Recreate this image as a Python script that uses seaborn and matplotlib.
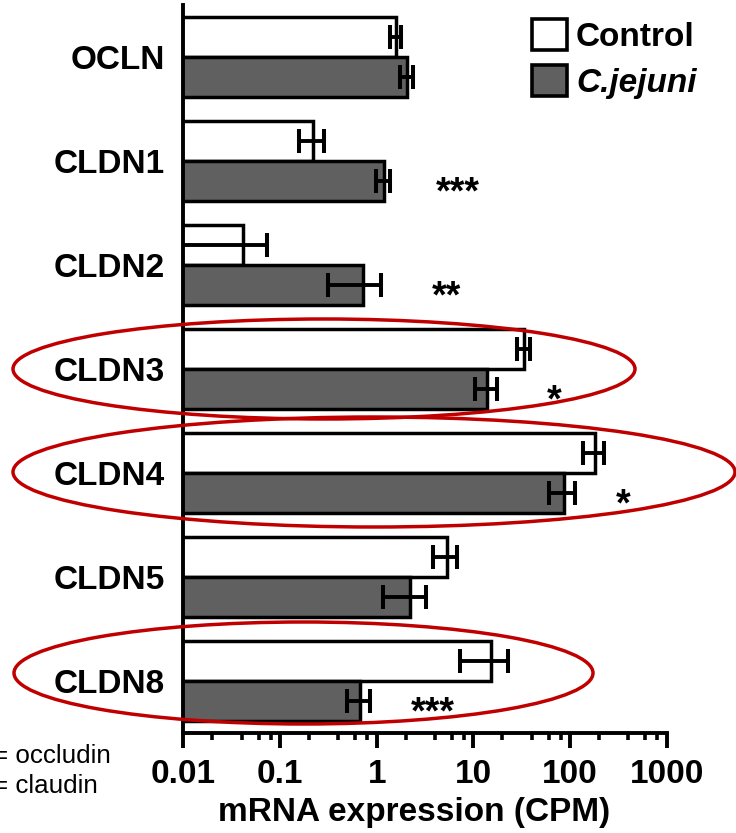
import numpy as np
import pandas as pd
import matplotlib
matplotlib.use('Agg')
import matplotlib.pyplot as plt
import seaborn as sns
from matplotlib.patches import Ellipse, Patch
from matplotlib.ticker import LogLocator, NullFormatter

# ---- data ----
genes = ['OCLN', 'CLDN1', 'CLDN2', 'CLDN3', 'CLDN4', 'CLDN5', 'CLDN8']
groups = ['Control', 'C.jejuni']
control_mean = [1.58, 0.221, 0.041, 33.6, 181, 5.3, 15.1]
control_err = [0.2, 0.064, 0.032, 5.2, 43.5, 1.5, 7.75]
cj_mean = [2.05, 1.19, 0.717, 13.9, 86.5, 2.21, 0.672]
cj_err = [0.32, 0.2, 0.405, 3.6, 25.7, 1.06, 0.18]
stars = ['', '***', '**', '*', '*', '', '***']
star_x = [None, 6.9, 5.3, 68, 351, None, 3.8]
xticks = [0.01, 0.1, 1, 10, 100, 1000]
xtick_labels = ['0.01', '0.1', '1', '10', '100', '1000']
xlabel = 'mRNA expression (CPM)'
notes = ['= occludin', '= claudin']

# ---- style ----
sns.set_theme(style='white')
plt.rcParams['font.family'] = ['Liberation Sans', 'DejaVu Sans']
plt.rcParams['text.color'] = 'black'
plt.rcParams['axes.labelcolor'] = 'black'
plt.rcParams['xtick.color'] = 'black'
plt.rcParams['ytick.color'] = 'black'

W, H = 736, 833
df = pd.DataFrame({
    'gene': genes * 2,
    'group': [groups[0]] * len(genes) + [groups[1]] * len(genes),
    'cpm': control_mean + cj_mean,
})

fig = plt.figure(figsize=(W / 100, H / 100), dpi=100)
ax = fig.add_axes([183.3 / W, 100 / H, 483.4 / W, 728 / H])
ax.set_xscale('log')
sns.barplot(data=df, y='gene', x='cpm', hue='group', order=genes,
            hue_order=groups, palette={'Control': 'white', 'C.jejuni': '#606060'},
            edgecolor='black', linewidth=2.5, width=0.76, orient='h',
            errorbar=None, saturation=1, legend=False, ax=ax, zorder=2)

# error bars at bar centres
for cont, means, errs in zip(ax.containers, [control_mean, cj_mean], [control_err, cj_err]):
    ys = [p.get_y() + p.get_height() / 2 for p in cont]
    ax.errorbar(means, ys, xerr=errs, fmt='none', ecolor='black',
                elinewidth=2.8, capsize=8.3, capthick=2.9, zorder=3)

ax.set_xlim(0.01, 1000)
ax.set_ylim(6.5, -0.5)
ax.set_xticks(xticks)
ax.set_xticklabels(xtick_labels)
ax.xaxis.set_minor_locator(LogLocator(base=10, subs=[2, 4, 6, 8]))
ax.xaxis.set_minor_formatter(NullFormatter())
ax.tick_params(axis='x', which='both', bottom=True, direction='out', color='black')
ax.tick_params(axis='x', which='major', length=10.5, width=2.8, pad=8, labelsize=24)
ax.tick_params(axis='x', which='minor', length=5, width=2.6)
ax.tick_params(axis='y', left=False, length=0, pad=13, labelsize=24)
for lab in ax.get_xticklabels() + ax.get_yticklabels():
    lab.set_fontweight('bold')
    lab.set_color('black')
for s in ['top', 'right']:
    ax.spines[s].set_visible(False)
for s in ['left', 'bottom']:
    ax.spines[s].set_linewidth(2.8)
    ax.spines[s].set_color('black')
ax.set_ylabel('')
ax.set_xlabel(xlabel, fontsize=24, fontweight='bold', color='black')
ax.xaxis.set_label_coords(0.478, -0.088)

# significance stars
for i, s in enumerate(stars):
    if s:
        ax.text(star_x[i], i + 0.41, s, ha='center', va='baseline',
                fontsize=27, fontweight='bold', color='black')

# legend
handles = [Patch(facecolor='white', edgecolor='black', linewidth=2.6),
           Patch(facecolor='#606060', edgecolor='black', linewidth=2.6)]
leg = fig.legend(handles, groups, loc='upper left', bbox_to_anchor=(532 / W, 1 - 19 / H),
                 frameon=False, prop={'weight': 'bold', 'size': 24},
                 handlelength=1.05, handleheight=1.05, handletextpad=0.27,
                 labelspacing=0.37, borderpad=0, borderaxespad=0)
for t in leg.get_texts():
    t.set_color('black')
leg.get_texts()[1].set_fontstyle('italic')

# red ellipses (figure pixel positions: cx, cy, width, height)
for cx, cy, w, h in [(324, 369, 622, 100), (374, 472, 722, 110), (303.5, 673, 579, 102)]:
    e = Ellipse((cx / W, 1 - cy / H), w / W, h / H, transform=fig.transFigure,
                fill=False, edgecolor='#c00000', linewidth=2.5, zorder=10)
    fig.add_artist(e)

# notes at lower left (partially cut, as in the source figure)
for k, t in enumerate(notes):
    fig.text(-7 / W, 1 - (763 + 30 * k) / H, t, fontsize=18.7, va='baseline', ha='left', color='black')

fig.savefig('out.png', dpi=100)
